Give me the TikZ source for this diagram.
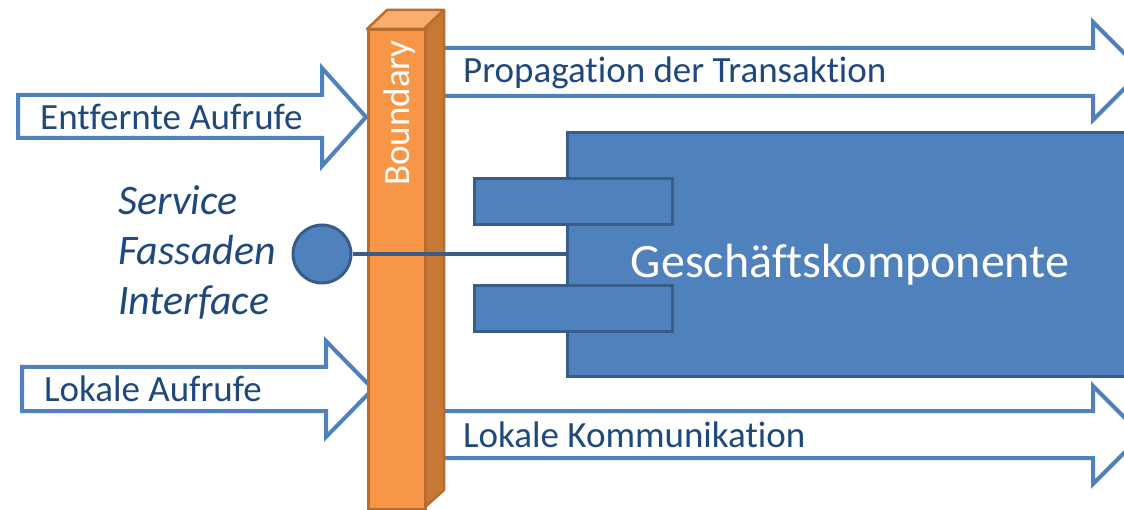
\documentclass[tikz,border=0pt]{standalone}
\usepackage{fontspec}
\setmainfont[Ligatures=NoCommon]{Carlito}
\begin{document}
\begin{tikzpicture}[x=1pt,y=-1pt,
  bluearrow/.style={draw=arrowblue,line width=4pt,fill=white,line join=miter},
  lbl/.style={anchor=base west,text=textblue,font=\fontsize{37}{37}\selectfont,inner sep=0pt},
  sfilbl/.style={anchor=base west,text=textblue,font=\fontsize{42}{42}\selectfont\itshape,inner sep=0pt},
  comp/.style={draw=compborder,line width=3pt,fill=compblue},
]
\definecolor{arrowblue}{HTML}{4F81BD}
\definecolor{textblue}{HTML}{1F497D}
\definecolor{compblue}{HTML}{4F81BD}
\definecolor{compborder}{HTML}{385D8A}
\definecolor{orfront}{HTML}{F79646}
\definecolor{orside}{HTML}{C77835}
\definecolor{ortop}{HTML}{FAAE6E}
\definecolor{orborder}{HTML}{B66D31}
\useasboundingbox (0,0) rectangle (1124,510);
\clip (0,0) rectangle (1124,510);
% right-pointing arrows
\draw[bluearrow] (443,48) -- (1093,48) -- (1093,22) -- (1142,71) -- (1093,120) -- (1093,96) -- (443,96) -- cycle;
\draw[bluearrow] (443,411) -- (1093,411) -- (1093,386) -- (1142,435) -- (1093,484) -- (1093,458) -- (443,458) -- cycle;
% component
\node[comp,minimum width=600pt,minimum height=244pt,anchor=north west,inner sep=0pt] (gk) at (566,131) {};
\node[anchor=base,text=white,font=\fontsize{48}{48}\selectfont,inner sep=0pt] (gktext) at (850,278) {Geschäftskomponente};
\node[comp,minimum width=198pt,minimum height=46pt,anchor=north west,inner sep=0pt] (p1) at (473,177) {};
\node[comp,minimum width=198pt,minimum height=46pt,anchor=north west,inner sep=0pt] (p2) at (473,284) {};
% left arrows
\draw[bluearrow] (18,95) -- (322,95) -- (322,68) -- (366,117) -- (322,166) -- (322,138) -- (18,138) -- cycle;
\draw[bluearrow] (22,367) -- (326,367) -- (326,341) -- (373,389) -- (326,437) -- (326,411) -- (22,411) -- cycle;
% boundary bar
\draw[orborder,line width=2.5pt,fill=ortop,line join=round] (367,29) -- (387,10) -- (444,10) -- (424,29) -- cycle;
\draw[orborder,line width=2.5pt,fill=orside,line join=round] (424,29) -- (444,10) -- (444,490) -- (424,508) -- cycle;
\node[draw=orborder,line width=2.5pt,fill=orfront,minimum width=57pt,minimum height=479pt,anchor=north west,inner sep=0pt] (bd) at (367,29) {};
\node[rotate=90,anchor=base east,text=white,font=\fontsize{37}{37}\selectfont,inner sep=0pt] (bdtext) at (409,40) {Boundary};
% labels
\node[lbl] (t1) at (40,130) {Entfernte Aufrufe};
\node[lbl] (t2) at (44,401) {Lokale Aufrufe};
\node[lbl] (t3) at (463,83) {Propagation der Transaktion};
\node[lbl] (t4) at (463,447) {Lokale Kommunikation};
\node[sfilbl] (s1) at (118,215) {Service};
\node[sfilbl] (s2) at (118,265) {Fassaden};
\node[sfilbl] (s3) at (118,315) {Interface};
% interface
\node[circle,draw=compborder,line width=3pt,fill=compblue,minimum size=58pt,inner sep=0pt] (ifc) at (322,254) {};
\draw[compborder,line width=4pt] (ifc.east) -- (gk.west |- ifc.east);
\end{tikzpicture}
\end{document}
